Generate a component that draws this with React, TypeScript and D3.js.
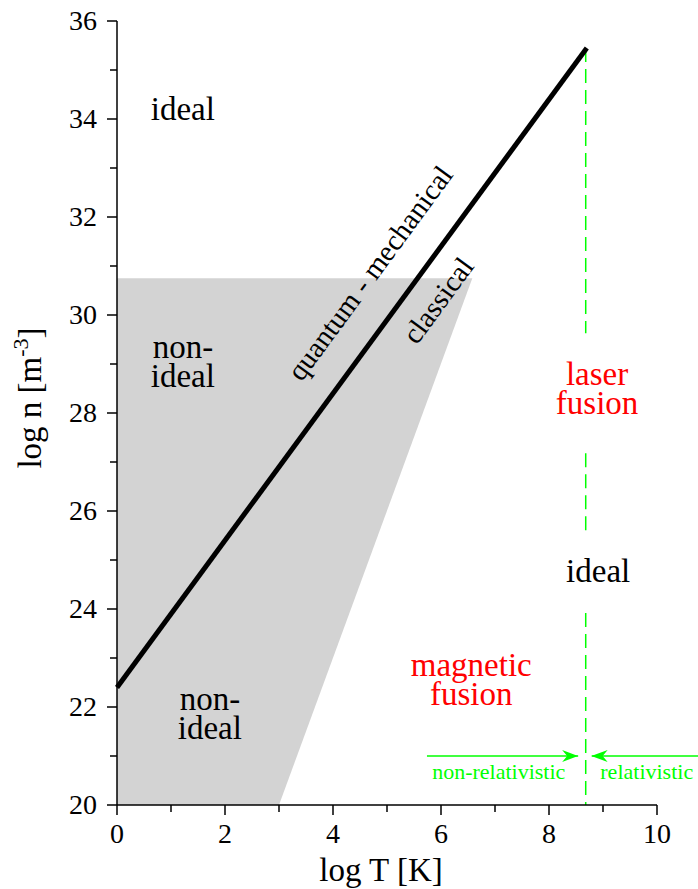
import React from 'react';
import * as d3 from 'd3';

const W = 698;
const H = 889;
const margin = { left: 117, right: 41, top: 21, bottom: 84 };

const xDomain: [number, number] = [0, 10];
const yDomain: [number, number] = [20, 36];
const xMajorTicks = [0, 2, 4, 6, 8, 10];
const xMinorTicks = [1, 3, 5, 7, 9];
const yMajorTicks = [20, 22, 24, 26, 28, 30, 32, 34, 36];
const yMinorTicks = [21, 23, 25, 27, 29, 31, 33, 35];

// boundary between quantum-mechanical and classical plasma: log n = 22.4 + 1.5 log T
const degeneracyLine: [number, number][] = [
  [0, 22.4],
  [8.7, 35.45],
];

// non-ideal (strongly coupled) region
const nonIdealRegion: [number, number][] = [
  [0, 20],
  [3.0, 20],
  [6.58, 30.75],
  [0, 30.75],
];

// relativistic boundary (log T) and its visible dashed pieces (log n from / to)
const relativisticT = 8.68;
const relativisticSegments: [number, number][] = [
  [35.45, 29.63],
  [27.18, 25.57],
  [23.92, 20],
];

const arrows = [
  { from: 5.74, to: 8.54, y: 21.0 },
  { from: 10.76, to: 8.79, y: 21.0 },
];

const regionLabels = [
  { lines: ['ideal'], x: 1.22, y: 33.98, color: '#000' },
  { lines: ['non-', 'ideal'], x: 1.22, y: 29.12, color: '#000' },
  { lines: ['non-', 'ideal'], x: 1.72, y: 21.94, color: '#000' },
  { lines: ['laser', 'fusion'], x: 8.89, y: 28.57, color: '#ff0000' },
  { lines: ['ideal'], x: 8.91, y: 24.55, color: '#000' },
  { lines: ['magnetic', 'fusion'], x: 6.56, y: 22.63, color: '#ff0000' },
];

const arrowLabels = [
  { text: 'non-relativistic', x: 7.07, y: 20.53 },
  { text: 'relativistic', x: 9.81, y: 20.53 },
];

const lineLabels = [
  { text: 'quantum - mechanical', x: 4.83, y: 30.74 },
  { text: 'classical', x: 6.09, y: 30.18 },
];

const FONT = '"Liberation Serif", "Times New Roman", serif';

export default function App() {
  const iw = W - margin.left - margin.right;
  const ih = H - margin.top - margin.bottom;
  const x = d3.scaleLinear().domain(xDomain).range([margin.left, margin.left + iw]);
  const y = d3.scaleLinear().domain(yDomain).range([margin.top + ih, margin.top]);

  const line = d3
    .line<[number, number]>()
    .x((d) => x(d[0]))
    .y((d) => y(d[1]));

  // on-screen angle of the degeneracy line
  const [p0, p1] = degeneracyLine;
  const angle =
    (Math.atan2(y(p1[1]) - y(p0[1]), x(p1[0]) - x(p0[0])) * 180) / Math.PI;

  const x0 = margin.left;
  const yBase = margin.top + ih;

  return (
    <svg
      width={W}
      height={H}
      style={{ position: 'absolute', left: 0, top: 0, background: '#fff' }}
      fontFamily={FONT}
    >
      <defs>
        <marker
          id="head"
          viewBox="0 0 16 12"
          refX="16"
          refY="6"
          markerWidth="16"
          markerHeight="12"
          markerUnits="userSpaceOnUse"
          orient="auto"
        >
          <path d="M0,0 L16,6 L0,12 L5,6 Z" fill="#00ff00" />
        </marker>
      </defs>

      <path d={line(nonIdealRegion.concat([nonIdealRegion[0]])) || ''} fill="#d3d3d3" stroke="none" />

      {relativisticSegments.map((s, i) => (
        <line
          key={i}
          x1={x(relativisticT)}
          x2={x(relativisticT)}
          y1={y(s[0])}
          y2={y(s[1])}
          stroke="#00ff00"
          strokeWidth={1.5}
          strokeDasharray="14 7"
        />
      ))}

      <path d={line(degeneracyLine) || ''} fill="none" stroke="#000" strokeWidth={5} />

      {arrows.map((a, i) => (
        <line
          key={i}
          x1={x(a.from)}
          x2={x(a.to)}
          y1={y(a.y)}
          y2={y(a.y)}
          stroke="#00ff00"
          strokeWidth={1.5}
          markerEnd="url(#head)"
        />
      ))}

      {arrowLabels.map((l, i) => (
        <text key={i} x={x(l.x)} y={y(l.y)} fontSize={22} fill="#00ff00" textAnchor="middle">
          {l.text}
        </text>
      ))}

      {regionLabels.map((l, i) => (
        <text key={i} x={x(l.x)} y={y(l.y)} fontSize={33} fill={l.color} textAnchor="middle">
          {l.lines.map((t, j) => (
            <tspan key={j} x={x(l.x)} dy={j === 0 ? 0 : 29}>
              {t}
            </tspan>
          ))}
        </text>
      ))}

      {lineLabels.map((l, i) => (
        <text
          key={i}
          x={x(l.x)}
          y={y(l.y)}
          fontSize={29}
          textAnchor="middle"
          transform={`rotate(${angle} ${x(l.x)} ${y(l.y)})`}
        >
          {l.text}
        </text>
      ))}

      {/* axes */}
      <g stroke="#000" strokeWidth={1.5}>
        <line x1={x0} x2={x0} y1={y(yDomain[1])} y2={yBase} />
        <line x1={x0} x2={x(xDomain[1])} y1={yBase} y2={yBase} />
        {yMajorTicks.map((t) => (
          <line key={'ym' + t} x1={x0 - 10} x2={x0} y1={y(t)} y2={y(t)} />
        ))}
        {yMinorTicks.map((t) => (
          <line key={'yn' + t} x1={x0 - 7} x2={x0} y1={y(t)} y2={y(t)} />
        ))}
        {xMajorTicks.map((t) => (
          <line key={'xm' + t} x1={x(t)} x2={x(t)} y1={yBase} y2={yBase + 10} />
        ))}
        {xMinorTicks.map((t) => (
          <line key={'xn' + t} x1={x(t)} x2={x(t)} y1={yBase} y2={yBase + 7} />
        ))}
      </g>

      {yMajorTicks.map((t) => (
        <text key={'yl' + t} x={x0 - 20} y={y(t)} dy="0.33em" fontSize={28} textAnchor="end">
          {t}
        </text>
      ))}
      {xMajorTicks.map((t) => (
        <text key={'xl' + t} x={x(t)} y={yBase + 38} fontSize={28} textAnchor="middle">
          {t}
        </text>
      ))}

      <text x={381} y={881} fontSize={33} textAnchor="middle">
        log T [K]
      </text>
      <text x={41} y={398} fontSize={33} textAnchor="middle" transform="rotate(-90 41 398)">
        log n [m
        <tspan fontSize={22} dy={-13}>
          -3
        </tspan>
        <tspan dy={13}>]</tspan>
      </text>
    </svg>
  );
}
